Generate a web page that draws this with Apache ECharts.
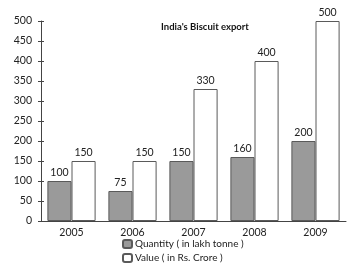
<!DOCTYPE html>
<html><head><meta charset="utf-8">
<script src="https://cdn.jsdelivr.net/npm/echarts@6/dist/echarts.min.js"></script>
<style>html,body{margin:0;padding:0;background:#fff}#c{width:347px;height:266px}</style>
</head><body><div id="c"></div>
<script>
const categories = ['2005','2006','2007','2008','2009'];
const quantity = [100, 75, 150, 160, 200];
const value = [150, 150, 330, 400, 500];
const yTicks = [0, 50, 100, 150, 200, 250, 300, 350, 400, 450, 500];
const titleText = "India's Biscuit export";
const seriesNames = ['Quantity ( in lakh tonne )', 'Value ( in Rs. Crore )'];

const font = 'Lato';
const chart = echarts.init(document.getElementById('c'), null, {renderer: 'canvas'});
chart.setOption({
  animation: false,
  textStyle: {fontFamily: font},
  title: {text: titleText, left: 200, top: 17, textAlign: 'center',
    textStyle: {fontSize: 9.5, fontWeight: 'bold', color: '#111', fontFamily: font}},
  legend: {orient: 'vertical', left: 122, top: 239, height: 27, padding: 0,
    itemWidth: 9, itemHeight: 8, itemGap: 4,
    textStyle: {fontSize: 10, color: '#222', fontFamily: font, padding: [0,0,0,-2]},
    data: seriesNames},
  grid: {left: 41, right: 1, top: 21, bottom: 45, containLabel: false},
  xAxis: {type: 'category', data: categories,
    axisLine: {lineStyle: {color: '#444', width: 1}},
    axisTick: {show: false},
    axisLabel: {fontSize: 10.5, color: '#222', margin: 6, fontFamily: font}},
  yAxis: [{type: 'value', min: yTicks[0], max: yTicks[yTicks.length-1], interval: 50,
    axisLine: {show: true, lineStyle: {color: '#444', width: 1}},
    axisTick: {show: true, length: 3, inside: false, lineStyle: {color: '#444'}},
    splitLine: {show: false},
    axisLabel: {fontSize: 10.5, color: '#222', margin: 9, fontFamily: font}},
   {type: 'value', position: 'left', min: yTicks[0], max: yTicks[yTicks.length-1], interval: 50,
    axisLine: {show: false},
    axisTick: {show: true, length: 3, inside: true, lineStyle: {color: '#444'}},
    splitLine: {show: false}, axisLabel: {show: false}}],
  series: [
    {name: seriesNames[0], type: 'bar', data: quantity, barGap: '0%', barCategoryGap: '21%',
     itemStyle: {color: '#9a9a9a', borderColor: '#5a5a5a', borderWidth: 1},
     label: {show: true, position: 'top', fontSize: 10.5, color: '#222', distance: 3, fontFamily: font}},
    {name: seriesNames[1], type: 'bar', data: value,
     itemStyle: {color: '#ffffff', borderColor: '#5a5a5a', borderWidth: 1},
     label: {show: true, position: 'top', fontSize: 10.5, color: '#222', distance: 3, fontFamily: font}}
  ]
});
</script></body></html>
